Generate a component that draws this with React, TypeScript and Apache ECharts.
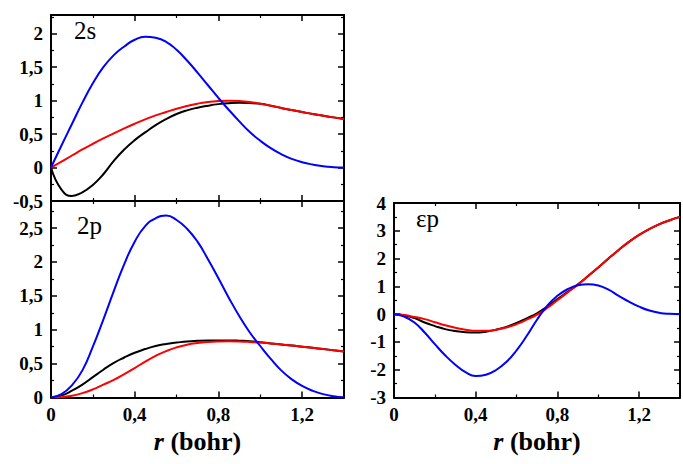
import React, { useEffect, useRef } from 'react';
import * as echarts from 'echarts';

// radial grid r (bohr)
const rValues = [0, 0.05, 0.1, 0.15, 0.2, 0.25, 0.3, 0.35, 0.4, 0.45, 0.5, 0.55, 0.6, 0.65, 0.7, 0.75, 0.8, 0.85, 0.9, 0.95, 1.0, 1.05, 1.1, 1.15, 1.2, 1.25, 1.3, 1.35, 1.4];

// 2s panel
const s2Black = [0, -0.33, -0.425, -0.37, -0.26, -0.10, 0.10, 0.27, 0.41, 0.525, 0.635, 0.725, 0.80, 0.855, 0.895, 0.925, 0.948, 0.962, 0.968, 0.965, 0.952, 0.925, 0.89, 0.86, 0.83, 0.80, 0.775, 0.75, 0.727];
const s2Red = [0, 0.09, 0.18, 0.27, 0.355, 0.435, 0.51, 0.585, 0.655, 0.72, 0.78, 0.83, 0.88, 0.92, 0.955, 0.98, 0.995, 1.0, 0.995, 0.98, 0.955, 0.925, 0.89, 0.86, 0.83, 0.80, 0.775, 0.75, 0.727];
const s2Blue = [0, 0.33, 0.65, 0.97, 1.26, 1.50, 1.68, 1.81, 1.91, 1.955, 1.94, 1.88, 1.76, 1.60, 1.42, 1.23, 1.04, 0.86, 0.69, 0.53, 0.40, 0.29, 0.20, 0.13, 0.08, 0.045, 0.02, 0.006, 0];

// 2p panel
const p2Black = [0, 0.03, 0.10, 0.19, 0.30, 0.41, 0.51, 0.59, 0.66, 0.715, 0.76, 0.79, 0.81, 0.828, 0.837, 0.842, 0.843, 0.842, 0.838, 0.832, 0.815, 0.797, 0.782, 0.767, 0.75, 0.733, 0.715, 0.698, 0.68];
const p2Red = [0, 0.005, 0.025, 0.065, 0.12, 0.19, 0.26, 0.345, 0.435, 0.53, 0.615, 0.685, 0.74, 0.78, 0.805, 0.82, 0.827, 0.829, 0.827, 0.82, 0.81, 0.797, 0.782, 0.767, 0.75, 0.733, 0.715, 0.698, 0.68];
const p2Blue = [0, 0.05, 0.18, 0.40, 0.75, 1.15, 1.57, 1.97, 2.30, 2.53, 2.645, 2.685, 2.62, 2.49, 2.30, 2.04, 1.76, 1.47, 1.20, 0.96, 0.76, 0.57, 0.40, 0.27, 0.17, 0.10, 0.05, 0.02, 0.005];

// εp panel
const epBlack = [0, -0.04, -0.14, -0.30, -0.43, -0.54, -0.61, -0.65, -0.66, -0.63, -0.56, -0.46, -0.32, -0.15, 0.03, 0.27, 0.54, 0.80, 1.07, 1.37, 1.68, 2.0, 2.31, 2.60, 2.85, 3.06, 3.24, 3.38, 3.50];
const epRed = [0, -0.03, -0.10, -0.18, -0.29, -0.40, -0.49, -0.56, -0.60, -0.60, -0.56, -0.48, -0.36, -0.20, -0.02, 0.22, 0.50, 0.78, 1.06, 1.37, 1.68, 2.0, 2.31, 2.60, 2.85, 3.06, 3.24, 3.38, 3.50];
const epBlue = [0, -0.09, -0.30, -0.66, -1.08, -1.48, -1.82, -2.09, -2.23, -2.18, -2.01, -1.72, -1.30, -0.78, -0.20, 0.30, 0.66, 0.90, 1.04, 1.08, 1.03, 0.88, 0.66, 0.45, 0.27, 0.13, 0.045, 0.01, 0];

const panelLabels = ['2s', '2p', 'εp'];
const axisTitleItalic = 'r';
const axisTitleRest = ' (bohr)';

const FONT = "'Liberation Serif', 'Times New Roman', serif";
const COLORS = { black: '#000000', red: '#ff0000', blue: '#0000ff' };

function pairs(ys: number[]) {
  return rValues.map((r, i) => [r, ys[i]]);
}

function fmt(step: number) {
  return (v: number) => {
    const k = v / step;
    if (Math.abs(k - Math.round(k)) > 1e-6) return '';
    const rounded = Math.round(v * 100) / 100;
    return String(rounded).replace('.', ',');
  };
}

export default function App() {
  const ref = useRef<HTMLDivElement>(null);
  useEffect(() => {
    if (!ref.current) return;
    const chart = echarts.init(ref.current, null, { renderer: 'svg' });

    const axisLine = { show: true, onZero: false, lineStyle: { color: '#000', width: 2 } };
    const axisTick = { show: true, inside: true, length: 6, lineStyle: { color: '#000', width: 1.5 } };
    const minorTick = { show: true, splitNumber: 2, length: 3, lineStyle: { color: '#000', width: 1.2 } };
    const labelStyle = { fontFamily: FONT, fontWeight: 'bold', fontSize: 19, color: '#000' };

    const grids = [
      { left: 51, top: 15, width: 293, height: 186 },
      { left: 51, top: 201, width: 293, height: 196.5 },
      { left: 394, top: 203, width: 293, height: 194.5 },
    ];

    const xAxis: any[] = [];
    const yAxis: any[] = [];
    const yRanges = [
      { min: -0.5, max: 2.28, interval: 0.5 },
      { min: 0, max: 2.9, interval: 0.5 },
      { min: -3, max: 4, interval: 1 },
    ];

    grids.forEach((_, gi) => {
      const showX = gi > 0;
      xAxis.push({
        type: 'value', gridIndex: gi, position: 'bottom', min: 0, max: 1.4, interval: 0.4,
        axisLine, axisTick, minorTick, splitLine: { show: false },
        axisLabel: { show: showX, margin: 7, ...labelStyle, formatter: fmt(0.4) },
        name: showX ? `{i|${axisTitleItalic}}{b|${axisTitleRest}}` : '',
        nameLocation: 'middle', nameGap: 31,
        nameTextStyle: {
          rich: {
            i: { fontFamily: FONT, fontStyle: 'italic', fontWeight: 'bold', fontSize: 26, color: '#000' },
            b: { fontFamily: FONT, fontWeight: 'bold', fontSize: 26, color: '#000' },
          },
        },
      });
      xAxis.push({
        type: 'value', gridIndex: gi, position: 'top', min: 0, max: 1.4, interval: 0.4,
        axisLine, axisTick, minorTick, splitLine: { show: false }, axisLabel: { show: false },
      });
      const yr = yRanges[gi];
      yAxis.push({
        type: 'value', gridIndex: gi, position: 'left', ...yr,
        axisLine, axisTick, minorTick, splitLine: { show: false },
        axisLabel: { show: true, margin: 8, ...labelStyle, formatter: fmt(yr.interval) },
      });
      yAxis.push({
        type: 'value', gridIndex: gi, position: 'right', ...yr,
        axisLine, axisTick, minorTick, splitLine: { show: false }, axisLabel: { show: false },
      });
    });

    const mk = (gi: number, ys: number[], color: string) => ({
      type: 'line', xAxisIndex: gi * 2, yAxisIndex: gi * 2, data: pairs(ys),
      smooth: 0.5, showSymbol: false, symbol: 'none', silent: true,
      lineStyle: { color, width: 2 }, z: 3,
    });

    const series = [
      mk(0, s2Black, COLORS.black), mk(0, s2Red, COLORS.red), mk(0, s2Blue, COLORS.blue),
      mk(1, p2Black, COLORS.black), mk(1, p2Red, COLORS.red), mk(1, p2Blue, COLORS.blue),
      mk(2, epBlack, COLORS.black), mk(2, epRed, COLORS.red), mk(2, epBlue, COLORS.blue),
    ];

    const labelPos = [
      { x: 74, y: 30 },
      { x: 77, y: 225 },
      { x: 416, y: 218.5 },
    ];

    chart.setOption({
      animation: false,
      backgroundColor: '#fff',
      grid: grids,
      xAxis,
      yAxis,
      series,
      graphic: panelLabels.map((t, i) => ({
        type: 'text', x: labelPos[i].x, y: labelPos[i].y, z: 10,
        style: { text: t, fontFamily: FONT, fontSize: 25, fill: '#000', verticalAlign: 'middle', align: 'left' },
      })),
    });
    return () => chart.dispose();
  }, []);
  return <div ref={ref} style={{ position: 'absolute', left: 0, top: 0, width: 683, height: 464 }} />;
}
